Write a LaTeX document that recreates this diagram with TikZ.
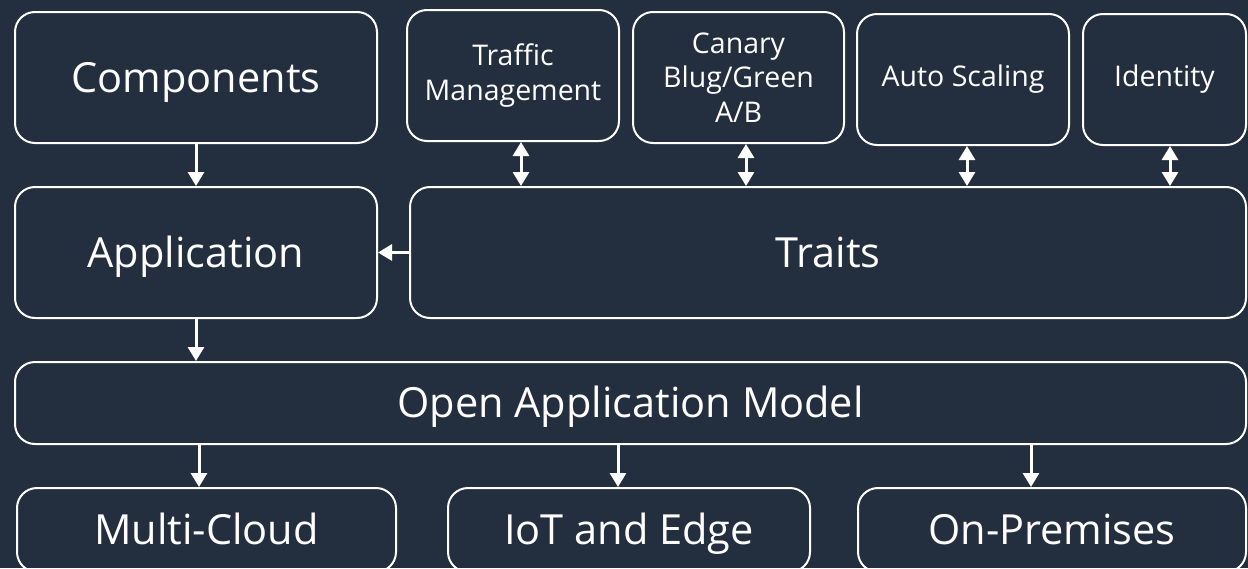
\documentclass[tikz,border=0pt]{standalone}
\usepackage{fontspec}
\setmainfont{Open Sans}
\usetikzlibrary{arrows.meta}
\definecolor{bg}{HTML}{232F3E}
\tikzset{
  box/.style={draw=white, line width=2pt, rounded corners=20pt, text=white, align=center, inner sep=0pt},
  big/.style={font=\fontsize{41.5}{48}\selectfont, text height=29.6pt, text depth=0pt},
  small/.style={font=\fontsize{28.5}{34.5}\selectfont},
  arr/.style={white, line width=3pt, -{Triangle[width=16pt,length=14pt]}},
  darr/.style={white, line width=3pt, {Triangle[width=16pt,length=14pt]}-{Triangle[width=16pt,length=14pt]}}
}
\begin{document}
\begin{tikzpicture}[x=1pt,y=-1pt]
\fill[bg] (0,0) rectangle (1248,568);
\useasboundingbox (0,0) rectangle (1248,568);
\begin{scope}
\clip (0,0) rectangle (1248,568);
% boxes
\node[box,big,minimum width=362pt,minimum height=131pt] (comp) at (196,77.5) {Components};
\node[box,big,minimum width=362pt,minimum height=131pt] (app) at (196,252.5) {Application};
\node[box,big,minimum width=836pt,minimum height=131pt] (traits) at (828,252.5) {Traits};
\node[box,small,minimum width=212pt,minimum height=131pt] (tm) at (513,75.5) {Traffic\\Management};
\node[box,small,minimum width=211pt,minimum height=131pt] (can) at (738.5,77.5) {Canary\\Blug/Green\\A/B};
\node[box,small,minimum width=212pt,minimum height=131pt] (auto) at (963,79.5) {Auto Scaling};
\node[box,small,minimum width=163pt,minimum height=131pt] (ident) at (1164.5,79.5) {Identity};
\node[box,big,minimum width=1231pt,minimum height=82pt] (oam) at (630.5,403) {Open Application Model};
\node[box,big,minimum width=379pt,minimum height=84pt] (multi) at (206.5,530) {Multi-Cloud};
\node[box,big,minimum width=362pt,minimum height=84pt] (iot) at (629,530) {IoT and Edge};
\node[box,big,minimum width=388pt,minimum height=84pt] (onprem) at (1052,530) {On-Premises};
% connectors
\draw[arr] (comp.south) -- (app.north);
\draw[arr] (app.south) -- (oam.north -| app.south);
\draw[arr] (traits.west) -- (app.east);
\draw[darr] (tm.south -| 521,0) -- (traits.north -| 521,0);
\draw[darr] (can.south -| 746,0) -- (traits.north -| 746,0);
\draw[darr] (auto.south -| 967,0) -- (traits.north -| 967,0);
\draw[darr] (ident.south -| 1170,0) -- (traits.north -| 1170,0);
\draw[arr] (oam.south -| 199,0) -- (multi.north -| 199,0);
\draw[arr] (oam.south -| 618,0) -- (iot.north -| 618,0);
\draw[arr] (oam.south -| 1031,0) -- (onprem.north -| 1031,0);
\end{scope}
\end{tikzpicture}
\end{document}
